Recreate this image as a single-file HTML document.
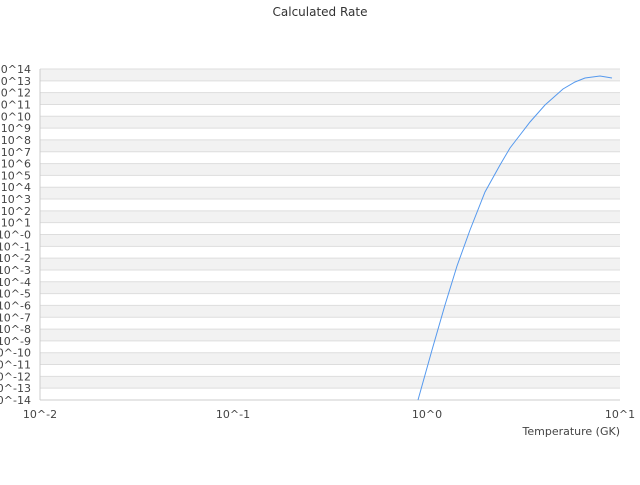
<!DOCTYPE html>
<html><head><style>body{margin:0;background:#fff}</style></head><body>
<svg width="640" height="480" xmlns="http://www.w3.org/2000/svg" font-family="DejaVu Sans, Liberation Sans, sans-serif">
<text x="320" y="16" text-anchor="middle" font-size="12" fill="#333">Calculated Rate</text>
<g fill="#f2f2f2">
<rect x="40" y="69" width="580" height="11.82"/>
<rect x="40" y="92.64" width="580" height="11.82"/>
<rect x="40" y="116.29" width="580" height="11.82"/>
<rect x="40" y="139.93" width="580" height="11.82"/>
<rect x="40" y="163.57" width="580" height="11.82"/>
<rect x="40" y="187.21" width="580" height="11.82"/>
<rect x="40" y="210.86" width="580" height="11.82"/>
<rect x="40" y="234.5" width="580" height="11.82"/>
<rect x="40" y="258.14" width="580" height="11.82"/>
<rect x="40" y="281.79" width="580" height="11.82"/>
<rect x="40" y="305.43" width="580" height="11.82"/>
<rect x="40" y="329.07" width="580" height="11.82"/>
<rect x="40" y="352.71" width="580" height="11.82"/>
<rect x="40" y="376.36" width="580" height="11.82"/>
</g>
<g stroke="#ddd" stroke-width="1">
<line x1="40" x2="620" y1="69" y2="69"/><line x1="40" x2="620" y1="80.82" y2="80.82"/><line x1="40" x2="620" y1="92.64" y2="92.64"/><line x1="40" x2="620" y1="104.46" y2="104.46"/><line x1="40" x2="620" y1="116.29" y2="116.29"/><line x1="40" x2="620" y1="128.11" y2="128.11"/><line x1="40" x2="620" y1="139.93" y2="139.93"/><line x1="40" x2="620" y1="151.75" y2="151.75"/><line x1="40" x2="620" y1="163.57" y2="163.57"/><line x1="40" x2="620" y1="175.39" y2="175.39"/><line x1="40" x2="620" y1="187.21" y2="187.21"/><line x1="40" x2="620" y1="199.04" y2="199.04"/><line x1="40" x2="620" y1="210.86" y2="210.86"/><line x1="40" x2="620" y1="222.68" y2="222.68"/><line x1="40" x2="620" y1="234.5" y2="234.5"/><line x1="40" x2="620" y1="246.32" y2="246.32"/><line x1="40" x2="620" y1="258.14" y2="258.14"/><line x1="40" x2="620" y1="269.96" y2="269.96"/><line x1="40" x2="620" y1="281.79" y2="281.79"/><line x1="40" x2="620" y1="293.61" y2="293.61"/><line x1="40" x2="620" y1="305.43" y2="305.43"/><line x1="40" x2="620" y1="317.25" y2="317.25"/><line x1="40" x2="620" y1="329.07" y2="329.07"/><line x1="40" x2="620" y1="340.89" y2="340.89"/><line x1="40" x2="620" y1="352.71" y2="352.71"/><line x1="40" x2="620" y1="364.54" y2="364.54"/><line x1="40" x2="620" y1="376.36" y2="376.36"/><line x1="40" x2="620" y1="388.18" y2="388.18"/>
</g>
<g font-size="11" fill="#444" text-anchor="end">
<text x="31" y="73">10^14</text><text x="31" y="84.8">10^13</text><text x="31" y="96.6">10^12</text><text x="31" y="108.5">10^11</text><text x="31" y="120.3">10^10</text><text x="31" y="132.1">10^9</text><text x="31" y="143.9">10^8</text><text x="31" y="155.8">10^7</text><text x="31" y="167.6">10^6</text><text x="31" y="179.4">10^5</text><text x="31" y="191.2">10^4</text><text x="31" y="203">10^3</text><text x="31" y="214.9">10^2</text><text x="31" y="226.7">10^1</text><text x="31" y="238.5">10^-0</text><text x="31" y="250.3">10^-1</text><text x="31" y="262.1">10^-2</text><text x="31" y="274">10^-3</text><text x="31" y="285.8">10^-4</text><text x="31" y="297.6">10^-5</text><text x="31" y="309.4">10^-6</text><text x="31" y="321.3">10^-7</text><text x="31" y="333.1">10^-8</text><text x="31" y="344.9">10^-9</text><text x="31" y="356.7">10^-10</text><text x="31" y="368.5">10^-11</text><text x="31" y="380.4">10^-12</text><text x="31" y="392.2">10^-13</text><text x="31" y="404">10^-14</text>
</g>
<line x1="40" y1="69" x2="40" y2="400" stroke="#ccc"/>
<line x1="40" y1="400" x2="620" y2="400" stroke="#ccc"/>
<g font-size="11" fill="#444" text-anchor="middle">
<text x="40" y="418">10^-2</text><text x="233" y="418">10^-1</text><text x="427" y="418">10^0</text><text x="620" y="418">10^1</text>
</g>
<text x="620" y="435" text-anchor="end" font-size="11" fill="#444">Temperature (GK)</text>
<polyline fill="none" stroke="#5599ee" stroke-width="1" points="418,400 432,350 445,305 457,266 470,230 485,192 500,165 510,148 520,135 530,122 545,105 563,89 575,82 585,78 600,76 612,78"/>
</svg>
</body></html>
